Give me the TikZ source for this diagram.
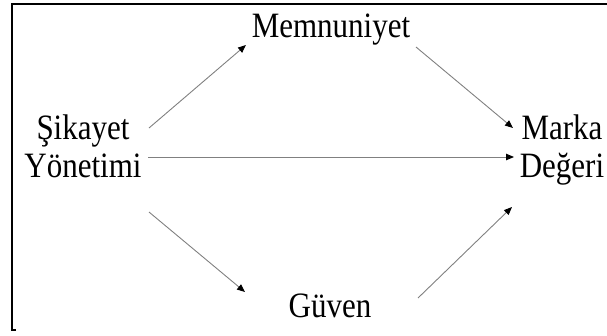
\documentclass[tikz,border=0pt]{standalone}
\usepackage{fontspec}
\setmainfont{Liberation Serif}
\usetikzlibrary{arrows.meta}
\begin{document}
\begin{tikzpicture}[x=1pt,y=-1pt,
  lbl/.style={font=\fontsize{31}{38}\selectfont, inner sep=0pt, align=center, anchor=base},
  conn/.style={draw=black!50, line width=0.9pt, -{Triangle[length=8pt,width=6.5pt,color=black]}}]
\useasboundingbox (0,0) rectangle (607,335);
\draw[line width=2pt] (16,330) -- (12,330) -- (12,4) -- (607,4);
\node[lbl] (sik) at (83,177) {\scalebox{1}[1.15]{Şikayet}\\\scalebox{1}[1.15]{Yönetimi}};
\node[lbl] (mem) at (331,37) {\scalebox{1}[1.15]{Memnuniyet}};
\node[lbl] (mar) at (562,177) {\scalebox{1}[1.15]{Marka}\\\scalebox{1}[1.15]{Değeri}};
\node[lbl] (guv) at (330,317) {\scalebox{1}[1.15]{Güven}};
\coordinate (a1s) at (149,128); \coordinate (a1e) at (246,45);
\coordinate (a2s) at (416,47);  \coordinate (a2e) at (513,128);
\coordinate (a3s) at (148,157); \coordinate (a3e) at (514,157);
\coordinate (a4s) at (149,212); \coordinate (a4e) at (245,292);
\coordinate (a5s) at (418,298); \coordinate (a5e) at (512,207);
\draw[conn] (a1s) -- (a1e);
\draw[conn] (a2s) -- (a2e);
\draw[conn] (a3s) -- (a3e);
\draw[conn] (a4s) -- (a4e);
\draw[conn] (a5s) -- (a5e);
\end{tikzpicture}
\end{document}
